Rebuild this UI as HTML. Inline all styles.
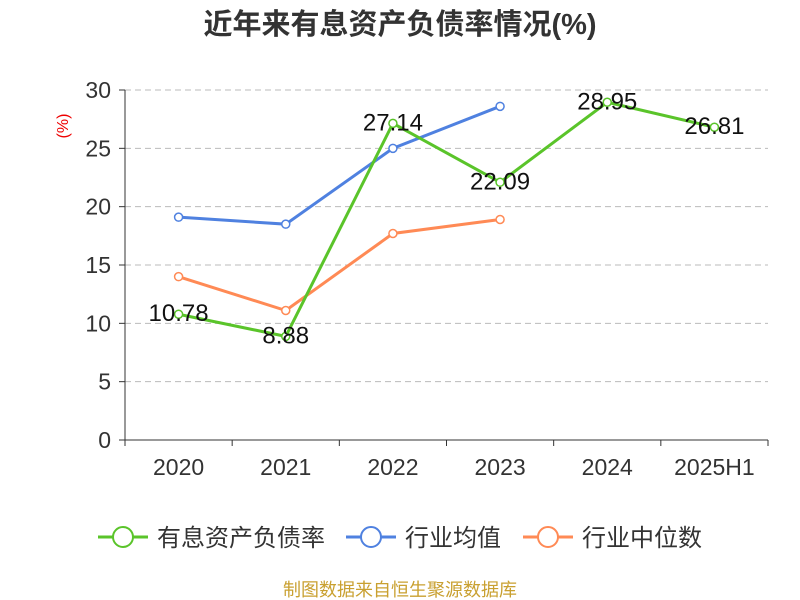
<!DOCTYPE html>
<html><head><meta charset="utf-8"><style>
body{margin:0;background:#fff;}
svg{display:block;font-family:"Liberation Sans","Noto Sans CJK SC",sans-serif;}
</style></head><body>
<svg id="chart" width="800" height="600">
<text x="400" y="34" text-anchor="middle" font-size="29" font-weight="bold" fill="#333">近年来有息资产负债率情况(%)</text>
<text x="68" y="126" text-anchor="middle" font-size="16" fill="#e00" transform="rotate(-90 68 126)">(%)</text>
<g id="grid"></g><g id="axes"></g><g id="series"></g>
<g id="legend"></g>
<text x="400" y="596" text-anchor="middle" font-size="18" fill="#c9a030">制图数据来自恒生聚源数据库</text>
</svg>
<script>
const categories=["2020","2021","2022","2023","2024","2025H1"];
const yTicks=[0,5,10,15,20,25,30];
const debtRatio=[10.78,8.88,27.14,22.09,28.95,26.81];
const industryAvg=[19.1,18.5,25.0,28.6,null,null];
const industryMedian=[14.0,11.1,17.7,18.9,null,null];
const NS="http://www.w3.org/2000/svg";
const X0=125,X1=768,Y0=440,Y1=90,YMAX=30;
const bw=(X1-X0)/categories.length;
const xs=i=>X0+bw*(i+0.5);
const ys=v=>Y0-(v/YMAX)*(Y0-Y1);
function mk(tag,attrs,parent){const e=document.createElementNS(NS,tag);for(const k in attrs)e.setAttribute(k,attrs[k]);parent.appendChild(e);return e;}
const grid=document.getElementById('grid'),axes=document.getElementById('axes'),series=document.getElementById('series'),legend=document.getElementById('legend');
yTicks.forEach(t=>{
 if(t>0){const l=mk('line',{x1:X0,x2:X1,y1:ys(t),y2:ys(t),stroke:'#bbb','stroke-dasharray':'6,4'},grid);
 
 }
 const tk=mk('line',{x1:X0-6,x2:X0,y1:ys(t),y2:ys(t),stroke:'#333'},axes);
 
 
 const tx=mk('text',{x:X0-14,y:ys(t)+8,'text-anchor':'end','font-size':23,fill:'#333'},axes);tx.textContent=t;
 
 
});
const ya=mk('line',{x1:X0,x2:X0,y1:Y1,y2:Y0,stroke:'#333'},axes);


const xa=mk('line',{x1:X0,x2:X1,y1:Y0,y2:Y0,stroke:'#333'},axes);


for(let i=0;i<=categories.length;i++){const tk=mk('line',{x1:X0+bw*i,x2:X0+bw*i,y1:Y0,y2:Y0+6,stroke:'#333'},axes);
 
 }
categories.forEach((c,i)=>{const t=mk('text',{x:xs(i),y:Y0+35,'text-anchor':'middle','font-size':23,fill:'#333'},axes);t.textContent=c;
 
 });
function drawSeries(vals,color,name,labels){
 const g=mk('g',{},series);
 
 
 const pts=[];vals.forEach((v,i)=>{if(v!=null)pts.push([xs(i),ys(v),v]);});
 const p=mk('polyline',{points:pts.map(p=>p[0]+','+p[1]).join(' '),fill:'none',stroke:color,'stroke-width':3},g);
 
 
 pts.forEach(q=>{const c=mk('circle',{cx:q[0],cy:q[1],r:4,fill:'#fff',stroke:color,'stroke-width':1.5},g);
  
  
  if(labels){const t=mk('text',{x:q[0],y:q[1]+7,'text-anchor':'middle','font-size':24,fill:'#111'},g);t.textContent=q[2].toFixed(2);
   
   }
 });
}
drawSeries(industryAvg,'#4f81e0','industry-average',false);
drawSeries(industryMedian,'#ff8a55','industry-median',false);
drawSeries(debtRatio,'#5ac42a','debt-ratio',true);
[["有息资产负债率",'#5ac42a',98],["行业均值",'#4f81e0',346],["行业中位数",'#ff8a55',523]].forEach((d,i)=>{
 const g=mk('g',{},legend);
 
 
 mk('line',{x1:d[2],x2:d[2]+50,y1:537,y2:537,stroke:d[1],'stroke-width':3},g);
 mk('circle',{cx:d[2]+25,cy:537,r:10,fill:'#fff',stroke:d[1],'stroke-width':2},g);
 const t=mk('text',{x:d[2]+59,y:546,'font-size':24,fill:'#333'},g);t.textContent=d[0];
});
</script>
</body></html>
